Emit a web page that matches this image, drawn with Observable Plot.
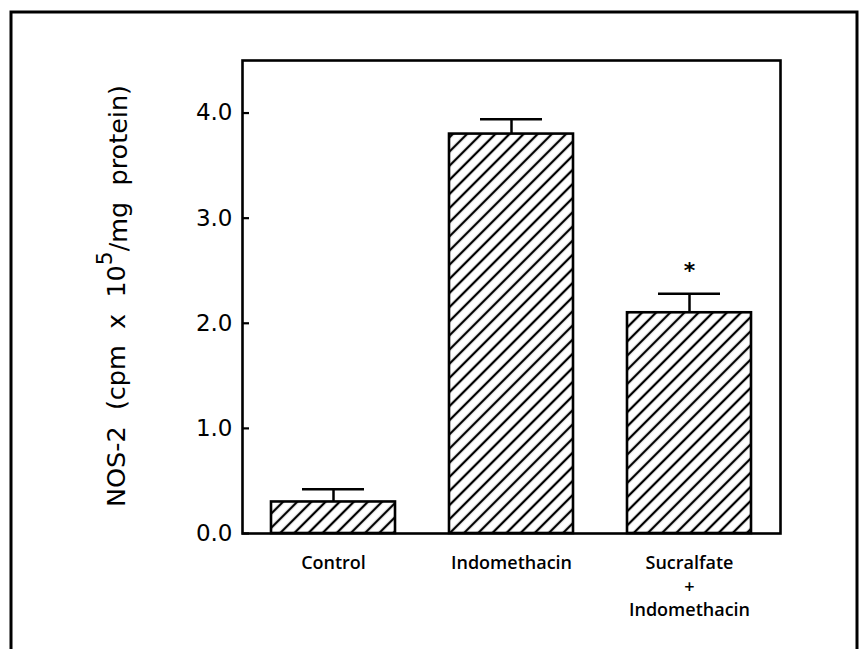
<!DOCTYPE html>
<html>
<head>
<meta charset="utf-8">
<script src="https://cdn.jsdelivr.net/npm/d3@7"></script>
<script src="https://cdn.jsdelivr.net/npm/@observablehq/plot@0.6"></script>
<style>
  html, body { margin: 0; padding: 0; background: #fff; }
  #chart svg { display: block; }
</style>
</head>
<body>
<div id="chart"></div>
<script>
// ---- Data ----
const categories = ["Control", "Indomethacin", "Sucralfate\n+\nIndomethacin"];
const means = [0.30, 3.80, 2.10];
const errors = [0.12, 0.14, 0.18];
const significant = [false, false, true];
const yTicks = [0, 1, 2, 3, 4];

const data = categories.map((c, i) => ({cat: c, mean: means[i], err: errors[i], sig: significant[i]}));

const W = 867, H = 649, ML = 242, MR = 87, MT = 60, MB = 116;
const tickLen = 7;

// hatch pattern definitions
const defs = () => {
  const g = d3.create("svg:defs");
  const p = g.append("pattern")
    .attr("id", "hatch")
    .attr("patternUnits", "userSpaceOnUse")
    .attr("width", 10).attr("height", 10)
    .attr("patternTransform", "rotate(45)");
  p.append("rect").attr("width", 10).attr("height", 10).attr("fill", "white");
  p.append("line").attr("x1", 5).attr("y1", -1).attr("x2", 5).attr("y2", 11)
    .attr("stroke", "black").attr("stroke-width", 2.3);
  return g.node();
};

const chart = Plot.plot({
  width: W,
  height: H,
  marginLeft: ML,
  marginRight: MR,
  marginTop: MT,
  marginBottom: MB,
  style: {background: "white", color: "black"},
  x: {domain: categories, paddingInner: 0.305, paddingOuter: 0.16, label: null},
  y: {domain: [0, 4.5], label: null},
  marks: [
    defs,
    Plot.barY(data, {x: "cat", y: "mean", fill: "url(#hatch)", stroke: "black", strokeWidth: 2.6}),
    Plot.ruleX(data, {x: "cat", y1: "mean", y2: d => d.mean + d.err, stroke: "black", strokeWidth: 2.5}),
    Plot.tickY(data, {x: "cat", y: d => d.mean + d.err, stroke: "black", strokeWidth: 2.5, insetLeft: 31, insetRight: 31}),
    Plot.text(data.filter(d => d.sig), {x: "cat", y: d => d.mean + d.err, text: () => "*", dy: -23, fontSize: 22, fontWeight: "bold", fontFamily: "DejaVu Sans"}),
    // inward ticks on the left side
    Plot.ruleY(yTicks, {y: d => d, stroke: "black", strokeWidth: 2.2, insetRight: W - ML - MR - tickLen}),
    Plot.frame({stroke: "black", strokeWidth: 2.6}),
    Plot.axisY({ticks: yTicks, tickFormat: d3.format(".1f"), tickSize: 0, tickPadding: 10, fontSize: 23, fontFamily: "DejaVu Sans", label: null}),
    Plot.axisX({tickSize: 0, tickPadding: 19, fontSize: 18, fontWeight: 600, fontFamily: "Open Sans", lineHeight: 1.3, label: null})
  ]
});

const svg = d3.select(chart);
// outer border
svg.append("path")
  .attr("d", "M11,652V12H857V652")
  .attr("fill", "none").attr("stroke", "black").attr("stroke-width", 3);

// y-axis title with superscript
const t = svg.append("text")
  .attr("transform", "translate(116,296) rotate(-90)")
  .attr("text-anchor", "middle")
  .attr("dominant-baseline", "central")
  .attr("font-family", "DejaVu Sans")
  .attr("font-size", 25.5)
  .attr("fill", "black")
  .style("white-space", "pre");
t.append("tspan").text("NOS-2  (cpm  x  10");
t.append("tspan").attr("dy", "-0.55em").attr("font-size", "0.85em").text("5");
t.append("tspan").attr("dy", "0.55em").text("/mg  protein)");

document.getElementById("chart").appendChild(chart);
</script>
</body>
</html>
